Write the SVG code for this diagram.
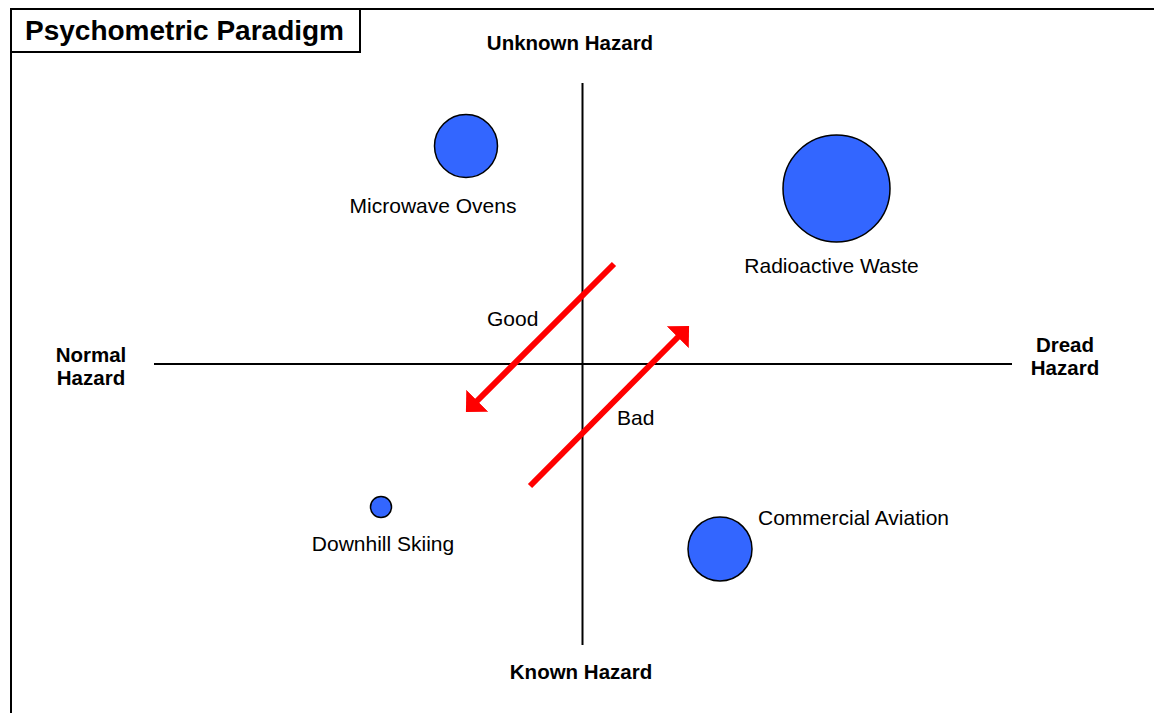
<svg xmlns="http://www.w3.org/2000/svg" width="1154" height="713" viewBox="0 0 1154 713">
<style>
.frame{fill:none;stroke:#000;stroke-width:2}
.axis{stroke:#000;stroke-width:2}
.bubble{fill:#3366FF;stroke:#000;stroke-width:1.5}
.lbl{font-family:"Liberation Sans",Arial,sans-serif;font-size:21px;fill:#000}
.ax{font-family:"Liberation Sans",Arial,sans-serif;font-size:20.5px;font-weight:bold;fill:#000;text-anchor:middle}
.title{font-family:"Liberation Sans",Arial,sans-serif;font-size:28px;font-weight:bold;fill:#000}
.arrow{stroke:#FF0000;stroke-width:6;fill:none;marker-end:url(#head)}
</style>
<defs>
<marker id="head" viewBox="0 0 16 31" refX="6" refY="15.5" markerWidth="16" markerHeight="31" markerUnits="userSpaceOnUse" orient="auto">
<path d="M0,0 L16,15.5 L0,31 z" fill="#FF0000"/>
</marker>
</defs>
<rect width="1154" height="713" fill="#fff"/>
<g id="frame">
<path class="frame" d="M11,713 V9 H1154"/>
<rect class="frame" x="11" y="9" width="349" height="43" fill="#fff"/>
<text class="title" x="25" y="40">Psychometric Paradigm</text>
</g>
<g id="axes">
<line class="axis" x1="582.5" y1="83" x2="582.5" y2="645"/>
<line class="axis" x1="154" y1="364" x2="1012" y2="364"/>
<text class="ax" x="570" y="50">Unknown Hazard</text>
<text class="ax" x="581" y="679">Known Hazard</text>
<text class="ax" x="91" y="362">Normal</text>
<text class="ax" x="91" y="385">Hazard</text>
<text class="ax" x="1065" y="352">Dread</text>
<text class="ax" x="1065" y="375">Hazard</text>
</g>
<g id="microwave-ovens">
<circle class="bubble" cx="466" cy="146" r="31.5"/>
<text class="lbl" x="433" y="213" text-anchor="middle">Microwave Ovens</text>
</g>
<g id="radioactive-waste">
<circle class="bubble" cx="836.5" cy="188.5" r="53.5"/>
<text class="lbl" x="831.5" y="273" text-anchor="middle">Radioactive Waste</text>
</g>
<g id="downhill-skiing">
<circle class="bubble" cx="381" cy="507" r="10.5"/>
<text class="lbl" x="383" y="551" text-anchor="middle">Downhill Skiing</text>
</g>
<g id="commercial-aviation">
<circle class="bubble" cx="720" cy="549" r="32"/>
<text class="lbl" x="758" y="525">Commercial Aviation</text>
</g>
<g id="connectors">
<line class="arrow" x1="614" y1="264" x2="473" y2="405"/>
<line class="arrow" x1="530" y1="486" x2="682" y2="333"/>
<text class="lbl" x="487" y="326">Good</text>
<text class="lbl" x="617" y="425">Bad</text>
</g>
</svg>
